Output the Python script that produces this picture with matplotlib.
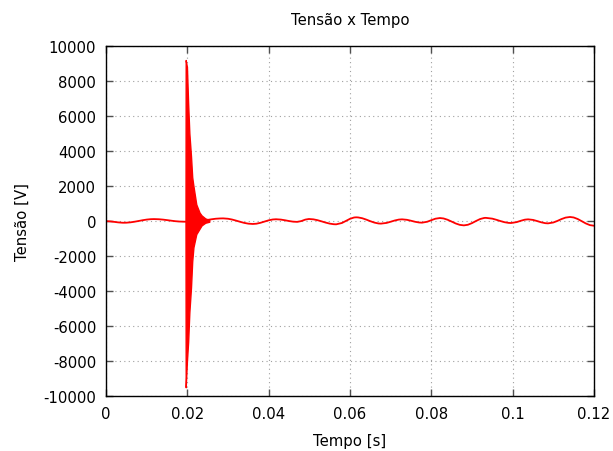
import matplotlib
matplotlib.use('Agg')
import matplotlib.pyplot as plt
import numpy as np

# steady waveform, time in ms and voltage in V
time_ms = [0, 1, 2, 3, 4, 4.4, 5, 6, 7, 8, 9, 10, 11, 11.8, 13, 14, 15, 16, 17, 18, 19.2, 19.6,
           21, 22, 23, 24, 25, 26, 27, 28, 28.8, 30, 31, 32, 33, 34, 35, 36.1,
           37, 38, 39, 40, 41, 41.8, 43, 44, 45, 46, 47, 48, 49, 49.9,
           51, 52, 53, 54, 55, 56, 56.6, 58, 59, 60, 61, 61.5,
           62, 63, 64, 65, 66, 67, 67.6, 69, 70, 71, 72, 72.8,
           74, 75, 76, 77, 77.7, 79, 80, 81, 82.1, 83, 84, 85, 86, 87, 88,
           89, 90, 91, 92, 93, 93.4, 95, 96, 97, 98, 99, 99.6,
           101, 102, 103, 103.8, 105, 106, 107, 108, 108.7,
           110, 111, 112, 113, 114.1, 115, 116, 117, 118, 119, 120]
volts = [-10, -21, -49, -79, -98, -100, -97, -77, -42, 0, 44, 81, 104, 110, 100, 80, 51, 19, -10, -30, -40, -40,
         -20, -10, 10, 35, 65, 100, 130, 145, 150, 129, 84, 21, -47, -109, -152, -170,
         -154, -102, -31, 39, 87, 100, 81, 43, -2, -37, -50, -6, 79, 115,
         95, 47, -20, -90, -149, -184, -190, -115, 4, 125, 200, 210,
         204, 159, 80, -11, -92, -141, -150, -109, -42, 29, 81, 95,
         68, 15, -44, -86, -95, -42, 47, 131, 170, 146, 71, -34, -142, -221, -250,
         -215, -120, 2, 113, 174, 180, 134, 69, -4, -69, -108, -115,
         -62, 13, 77, 95, 63, -2, -73, -124, -135,
         -85, 5, 110, 194, 230, 202, 113, -13, -141, -236, -270]

# envelope of the switching transient near t = 0.02 s
burst_t = [0.01955, 0.0196, 0.0199, 0.0202, 0.0205, 0.0209, 0.0212, 0.0215,
           0.0222, 0.0230, 0.0235, 0.0244, 0.0254]
burst_hi = [0, 9200, 8800, 6700, 5000, 3700, 2500, 2000, 950, 480, 320, 150, 60]
burst_lo = [0, -9500, -8000, -6900, -5200, -3800, -2300, -1500, -750, -440, -250, -100, -40]

x_ticks = [0, 0.02, 0.04, 0.06, 0.08, 0.1, 0.12]
x_labels = ['0', '0.02', '0.04', '0.06', '0.08', '0.1', '0.12']
y_ticks = list(range(-10000, 10001, 2000))

plt.rcParams['font.family'] = ['DejaVu Sans']
fig = plt.figure(figsize=(6.13, 4.52), dpi=100)
ax = fig.add_axes([106 / 613, 1 - 397 / 452, 488 / 613, 350 / 452])

t = np.array(time_ms) / 1000.0
ax.plot(t, volts, color='#ff0000', lw=1.3, zorder=3)
ax.fill_between(burst_t, burst_lo, burst_hi, color='#ff0000', lw=1.0,
                edgecolor='#ff0000', zorder=3)

ax.set_xlim(0, 0.12)
ax.set_ylim(-10000, 10000)
ax.set_xticks(x_ticks)
ax.set_xticklabels(x_labels)
ax.set_yticks(y_ticks)
ax.set_yticklabels([str(v) for v in y_ticks])

ax.grid(True, color='#a0a0a0', linestyle=(0, (1, 3)), lw=0.8)
ax.tick_params(direction='in', length=5, width=1, top=True, right=True,
               labelsize=10.7, color='#505050', pad=7)
for sp in ax.spines.values():
    sp.set_linewidth(1.0)
    sp.set_zorder(4)

ax.set_title('Tensão x Tempo', fontsize=10.7, pad=16)
ax.set_xlabel('Tempo [s]', fontsize=10.7, labelpad=9)
ax.set_ylabel('Tensão [V]', fontsize=10.7, labelpad=10)

fig.savefig('out.png', dpi=100)
